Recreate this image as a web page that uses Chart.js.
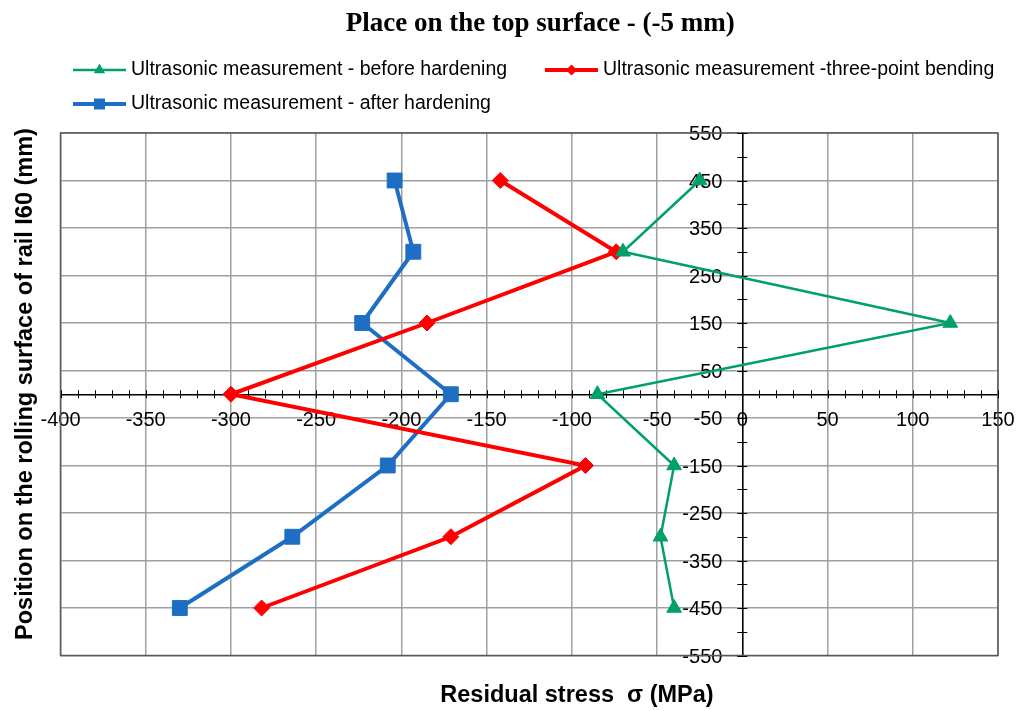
<!DOCTYPE html>
<html>
<head>
<meta charset="utf-8">
<script src="https://cdn.jsdelivr.net/npm/chart.js@4.4.1/dist/chart.umd.min.js"></script>
<style>
html,body{margin:0;padding:0;background:#fff;}
#wrap{width:1020px;height:711px;position:relative;}
</style>
</head>
<body>
<div id="wrap"><canvas id="c" width="1020" height="711"></canvas></div>
<script>
// ---- data ----
const positions = [450, 300, 150, 0, -150, -300, -450];           // mm (y)
const beforeHardening   = [-25, -70, 122, -85, -40, -48, -40];     // MPa (x)
const threePointBending = [-142, -74, -185, -300, -92, -171, -282];
const afterHardening    = [-204, -193, -223, -171, -208, -264, -330];
const seriesLabels = [
  'Ultrasonic measurement - before hardening',
  'Ultrasonic measurement -three-point bending',
  'Ultrasonic measurement - after hardening'
];
const titleText = 'Place on the top surface - (-5 mm)';
const xTitleText = 'Residual stress  \u03c3 (MPa)';
const yTitleText = 'Position on the rolling surface of rail I60 (mm)';
const xRange = [-400, 150];
const yRange = [-550, 550];
const xStep = 50, yStep = 100;

// ---- styles ----
const colors = ['#00A06B', '#FF0000', '#1E6FC3'];
const lineWidths = [2.5, 4, 4];
const pointStyles = ['triangle', 'rectRot', 'rect'];
const pointRadii = [8.5, 8, 10.5];
const SANS = "'Liberation Sans', Arial, sans-serif";
const SERIF = "'Liberation Serif', 'Times New Roman', serif";
// legend layout (line start x, centre y) per series, in canvas pixels
const legendSlots = [[73, 70], [545, 70], [73, 104]];

function toPoints(vals) { return vals.map((v, i) => ({x: v, y: positions[i]})); }

function drawMarker(g, style, cx, cy, size) {
  g.beginPath();
  if (style === 'triangle') {
    g.moveTo(cx, cy - size);
    g.lineTo(cx + size * 0.866, cy + size * 0.5);
    g.lineTo(cx - size * 0.866, cy + size * 0.5);
  } else if (style === 'rectRot') {
    g.moveTo(cx, cy - size); g.lineTo(cx + size, cy); g.lineTo(cx, cy + size); g.lineTo(cx - size, cy);
  } else {
    g.rect(cx - size, cy - size, 2 * size, 2 * size);
  }
  g.closePath();
  g.fill();
}

const series = [beforeHardening, threePointBending, afterHardening];
const datasets = series.map((vals, i) => ({
  label: seriesLabels[i],
  data: toPoints(vals),
  showLine: true,
  borderColor: colors[i],
  backgroundColor: colors[i],
  borderWidth: lineWidths[i],
  pointStyle: pointStyles[i],
  pointRadius: pointRadii[i],
  pointHoverRadius: pointRadii[i],
  pointBorderWidth: 1,
  pointBorderColor: colors[i],
  pointBackgroundColor: colors[i],
  tension: 0,
  xAxisID: 'x',
  yAxisID: 'y'
}));

const decorations = {
  id: 'decorations',
  beforeDatasetsDraw(chart) {
    const {ctx, chartArea: a} = chart;
    const x = chart.scales.x, y = chart.scales.y;
    ctx.save();
    ctx.strokeStyle = '#595959';
    ctx.lineWidth = 1.5;
    ctx.strokeRect(a.left, a.top, a.right - a.left, a.bottom - a.top);
    const x0 = x.getPixelForValue(0), y0 = y.getPixelForValue(0);
    ctx.strokeStyle = '#000';
    ctx.lineWidth = 1;
    ctx.beginPath();
    for (let v = xRange[0]; v <= xRange[1]; v += 10) {
      const px = Math.round(x.getPixelForValue(v)) + 0.5;
      ctx.moveTo(px, y0 - 4); ctx.lineTo(px, y0 + 4);
    }
    for (let v = yRange[0]; v <= yRange[1]; v += 50) {
      const py = Math.round(y.getPixelForValue(v)) + 0.5;
      ctx.moveTo(x0 - 5, py); ctx.lineTo(x0 + 5, py);
    }
    ctx.stroke();
    ctx.restore();
  },
  afterDraw(chart) {
    const {ctx, chartArea: a} = chart;
    ctx.save();
    // legend
    chart.data.datasets.forEach((ds, i) => {
      const [lx, ly] = legendSlots[i];
      ctx.strokeStyle = colors[i];
      ctx.fillStyle = colors[i];
      ctx.lineWidth = lineWidths[i];
      ctx.beginPath(); ctx.moveTo(lx, ly); ctx.lineTo(lx + 53, ly); ctx.stroke();
      drawMarker(ctx, pointStyles[i], lx + 26.5, ly, i === 0 ? 6.5 : 5.5);
      ctx.fillStyle = '#000';
      ctx.font = '19.5px ' + SANS;
      ctx.textAlign = 'left';
      ctx.textBaseline = 'middle';
      ctx.fillText(ds.label, lx + 58, ly);
    });
    // axis titles
    ctx.fillStyle = '#000';
    ctx.font = 'bold 23.5px ' + SANS;
    ctx.textAlign = 'center';
    ctx.textBaseline = 'alphabetic';
    ctx.fillText(xTitleText, a.left + 516.5, a.bottom + 46);
    ctx.translate(31.5, a.top + 251);
    ctx.rotate(-Math.PI / 2);
    ctx.fillText(yTitleText, 0, 0);
    ctx.restore();
  }
};

Chart.defaults.color = '#000';

new Chart(document.getElementById('c'), {
  type: 'scatter',
  data: {datasets},
  options: {
    responsive: false,
    animation: false,
    devicePixelRatio: 1,
    layout: {padding: {left: 60.5, right: 0, top: 0, bottom: 55.5}},
    plugins: {
      title: {
        display: true,
        text: titleText,
        color: '#000',
        font: {family: SERIF, size: 27, weight: 'bold', lineHeight: 1.2},
        padding: {top: 7.8, bottom: 92.8}
      },
      legend: {display: false},
      tooltip: {enabled: false}
    },
    scales: {
      x: {
        type: 'linear',
        position: {y: 0},
        min: xRange[0],
        max: xRange[1],
        ticks: {stepSize: xStep, font: {family: SANS, size: 20}, color: '#000', padding: 0, maxRotation: 0, autoSkip: false},
        grid: {color: '#a0a0a0', lineWidth: 1.5, drawTicks: true, tickLength: 14, tickColor: 'rgba(0,0,0,0)'},
        border: {display: true, color: '#000', width: 1.5}
      },
      y: {
        type: 'linear',
        position: {x: 0},
        min: yRange[0],
        max: yRange[1],
        ticks: {stepSize: yStep, display: false},
        grid: {color: '#a0a0a0', lineWidth: 1.5, drawTicks: false},
        border: {display: true, color: '#000', width: 1.5}
      },
      yLabels: {
        type: 'linear',
        position: {x: -11.7},
        min: yRange[0],
        max: yRange[1],
        ticks: {stepSize: yStep, font: {family: SANS, size: 20}, color: '#000', padding: 0, labelOffset: 1.5, autoSkip: false},
        grid: {display: false, drawTicks: false},
        border: {display: false}
      },
      rightSpace: {
        type: 'linear',
        position: 'right',
        display: true,
        ticks: {display: false},
        grid: {display: false, drawTicks: false},
        border: {display: false},
        afterFit(s) { s.width = 22; }
      }
    }
  },
  plugins: [decorations]
});
</script>
</body>
</html>
